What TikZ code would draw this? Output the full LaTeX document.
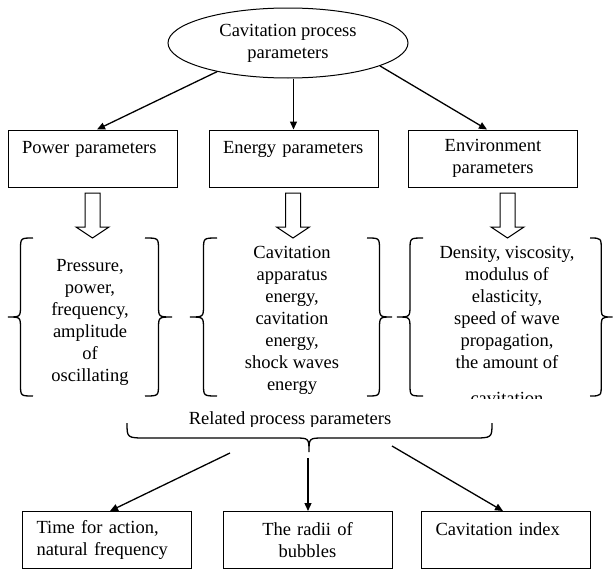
\documentclass[tikz,border=0pt]{standalone}
\usepackage{fontspec}
\setmainfont{Liberation Serif}
\usetikzlibrary{arrows.meta,shapes.geometric}
% #1 tip x, #2 end x, #3 top y, #4 bottom y, #5 curl radius
\newcommand\mybrace[5]{%
  \draw[bracestyle] (#2,#3) .. controls ({(#1+#2)/2},#3) .. ({(#1+#2)/2},{#3+#5})
    -- ({(#1+#2)/2},{(#3+#4)/2-#5}) .. controls ({(#1+#2)/2},{(#3+#4)/2}) .. (#1,{(#3+#4)/2})
    .. controls ({(#1+#2)/2},{(#3+#4)/2}) .. ({(#1+#2)/2},{(#3+#4)/2+#5})
    -- ({(#1+#2)/2},{#4-#5}) .. controls ({(#1+#2)/2},#4) .. (#2,#4);}
\begin{document}
\begin{tikzpicture}[x=1pt,y=-1pt,
  font=\fontsize{18.5}{22}\selectfont,
  box/.style={draw, line width=1pt, minimum height=57, text width=141,
    inner xsep=14, inner ysep=0, align=left},
  boxc/.style={box, align=center},
  grp/.style={inner sep=0, align=center},
  arr/.style={line width=1.3pt, -{Triangle[length=8pt,width=7pt]}},
  bracestyle/.style={line width=1.3pt},
  hollowarrow/.pic={\draw[line width=1pt] (-7.5,0) -- (-7.5,34) -- (-16.5,34) -- (0,45)
     -- (16.5,34) -- (7.5,34) -- (7.5,0) -- cycle;}]
\useasboundingbox (0,0) rectangle (614,570);

% top
\node[ellipse, draw, line width=1pt, minimum width=240, minimum height=70,
  inner sep=0, align=center] (ell) at (288,43) {Cavitation process\\parameters};

\node[box]  (pw) at (92.5,158.5) {Power parameters\\\mbox{}};
\node[box]  (en) at (293.5,158.5) {Energy parameters\\\mbox{}};
\node[boxc] (ev) at (493,158.5) {Environment\\parameters};

\draw[arr] (ell.202) -- ([xshift=4.5]pw.north);
\draw[arr] (ell.south -| en.north) -- (en.north);
\draw[arr] (ell.-14) -- ([xshift=-6]ev.north);

% hollow arrows
\pic at (92.5,193) {hollowarrow};
\pic at (293,193) {hollowarrow};
\pic at (507.5,193) {hollowarrow};

% braces
\mybrace{8}{33}{238}{396}{12}
\mybrace{172}{145}{238}{396}{12}
\mybrace{190}{217}{238}{396}{12}
\mybrace{392}{367}{238}{396}{12}
\mybrace{397}{423}{238}{396}{12}
\mybrace{612.5}{590}{238}{396}{12}

\node[grp] (g1) at (90,322) {Pressure,\\power,\\frequency,\\amplitude\\of\\oscillating};
\node[grp] (g2) at (292,320.7) {Cavitation\\apparatus\\energy,\\cavitation\\energy,\\shock waves\\energy};
\begin{scope}
  \clip (395,230) rectangle (590,398.5);
  \node[grp] (g3) at (507,325.7) {Density, viscosity,\\modulus of\\elasticity,\\speed of wave\\propagation,\\the amount of\\[14pt]cavitation};
\end{scope}

% related
\begin{scope}
  \clip (150,400) rectangle (440,426);
  \node[inner sep=0] (rel) at (290,420) {Related process parameters};
\end{scope}
\draw[bracestyle] (127,423) .. controls (127,438) .. (147,438) -- (294,438)
  .. controls (309,438) .. (309,452) .. controls (309,438) .. (324,438)
  -- (472,438) .. controls (492,438) .. (492,423);

\coordinate (s1) at (230,453);
\coordinate (s2) at (308,458);
\coordinate (s3) at (392,446);

\node[box]  (t1) at (107,540) {Time for action,\\natural frequency};
\node[boxc] (t2) at (307.5,540) {The radii of\\bubbles};
\node[box]  (t3) at (506,540) {Cavitation index\\\mbox{}};

\draw[arr] (s1) -- ([xshift=3]t1.north);
\draw[arr] (s2) -- (s2 |- t2.north);
\draw[arr] (s3) -- ([xshift=-3]t3.north);
\end{tikzpicture}
\end{document}
